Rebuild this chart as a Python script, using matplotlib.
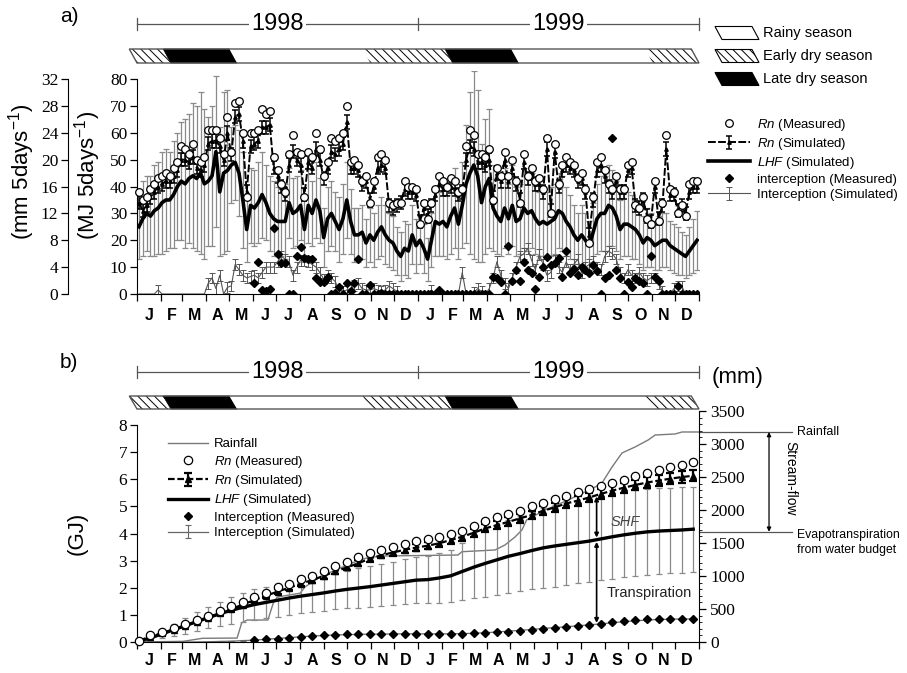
import numpy as np
import matplotlib
matplotlib.use('Agg')
import matplotlib.pyplot as plt
from matplotlib.patches import Polygon
from matplotlib.transforms import blended_transform_factory

plt.rcParams['font.family'] = ['Liberation Sans', 'DejaVu Sans']
plt.rcParams['mathtext.fontset'] = 'custom'
plt.rcParams['mathtext.rm'] = 'Liberation Sans'
plt.rcParams['mathtext.it'] = 'Liberation Sans:italic'
plt.rcParams['hatch.linewidth'] = 0.7

nan = np.nan

# ---------------- data ----------------
months = ['J', 'F', 'M', 'A', 'M', 'J', 'J', 'A', 'S', 'O', 'N', 'D'] * 2
month_days = [31, 28, 31, 30, 31, 30, 31, 31, 30, 31, 30, 31] * 2
years = ['1998', '1999']

season_edges = [0, 44, 130, 303, 410, 496, 670, 730]
season_kind = ['early', 'late', 'rainy', 'early', 'late', 'rainy', 'early']
season_labels = [('rainy', 'Rainy season'), ('early', 'Early dry season'), ('late', 'Late dry season')]

# 5-day values (MJ 5days-1), Jan 1998 - Dec 1999 (146 periods)
rn_meas = [38, 35, 36, 39, 41, 43, 44, 45, 44, 47, 49, 55, 54, 52, 56, 50, 49, 51, 61, 61,
           61, 58, 52, 66, 53, 71, 72, 60, 36, 60, 60, 61, 69, 67, 68, 51, 46,
           41, 38, 52, 59, 53, 52, 36, 53, 51, 60, 54, 44, 49, 58, 57, 58, 60, 70, 49, 50,
           48, 42, 44, 34, 42, 51, 52, 50, 34, 33, 34, 34, 42, 40, 40, 39,
           26, 34, 28, 34, 39, 44, 42, 40, 43, 42, 38, 39, 55, 61, 59, 52, 52, 51, 54, 35,
           47, 44, 53, 44, 50, 42, 34, 52, 44, 47, 42, 43, 39, 58, 30, 56,
           41, 48, 51, 49, 48, 43, 45, 39, 19, 36, 49, 51, 46, 41, 39, 44, 39, 39, 48, 49,
           33, 32, 36, 28, 26, 42, 27, 34, 59, 39, 38, 30, 33, 29, 41, 42, 42]
rn_sim = [34, 31, 33, 36, 38, 40, 41, 42, 42, 44, 46, 50, 50, 49, 51, 47, 46, 48, 56, 57,
          57, 55, 50, 60, 52, 66, 67, 57, 38, 55, 56, 57, 62, 62, 63, 47, 44,
          40, 37, 48, 53, 50, 48, 37, 49, 47, 54, 50, 43, 47, 53, 52, 54, 56, 64, 47, 47,
          46, 41, 42, 35, 40, 47, 48, 47, 33, 32, 33, 34, 39, 38, 38, 37,
          27, 32, 29, 33, 37, 41, 39, 39, 40, 39, 37, 38, 50, 55, 54, 49, 49, 48, 50, 36,
          45, 42, 50, 42, 47, 41, 35, 49, 43, 45, 41, 41, 38, 54, 31, 53,
          40, 46, 48, 47, 46, 42, 43, 38, 22, 35, 46, 48, 44, 40, 38, 42, 38, 38, 46, 47,
          33, 32, 35, 29, 27, 40, 28, 33, 54, 37, 37, 31, 33, 30, 38, 40, 40]
lhf_sim = [25, 28, 30, 29, 31, 32, 34, 35, 35, 37, 40, 42, 41, 43, 44, 43, 45, 41, 42, 44,
           53, 38, 45, 46, 48, 49, 45, 35, 24, 33, 32, 34, 37, 34, 30, 28, 27,
           27, 27, 34, 30, 31, 33, 24, 33, 30, 35, 31, 21, 28, 30, 27, 24, 28, 35, 27, 22,
           22, 23, 19, 22, 20, 23, 25, 22, 20, 19, 16, 14, 17, 16, 22, 18,
           20, 17, 13, 20, 27, 26, 27, 25, 29, 32, 26, 33, 41, 45, 48, 44, 34, 40, 43, 32,
           29, 27, 32, 28, 33, 27, 28, 32, 30, 31, 28, 26, 27, 26, 27, 28,
           31, 30, 27, 25, 22, 20, 22, 20, 18, 23, 28, 30, 30, 33, 32, 29, 24, 26, 26, 25,
           24, 22, 19, 21, 20, 18, 19, 20, 20, 18, 17, 16, 15, 14, 16, 18, 20]
lhf_err = [12, 14, 14, 15, 17, 17, 19, 19, 18, 20, 20, 22, 24, 24, 27, 27, 30, 28,
           24, 26, 28, 24, 30, 30, 14, 14, 16, 18, 12, 14, 14, 15, 16, 14, 14, 14,
           13, 13, 14, 13, 13, 13, 13, 12, 14, 12, 14, 12, 11, 12, 12, 11, 12, 13,
           14, 12, 10, 10, 10, 9, 10, 10, 10, 11, 11, 10, 10, 9, 9, 10, 10, 11, 10,
           9, 9, 8, 10, 13, 12, 13, 12, 14, 15, 13, 16, 22, 30, 35, 32, 22, 25,
           26, 16, 14, 13, 15, 13, 15, 13, 13, 15, 14, 14, 13, 12, 13, 12, 13, 13,
           14, 14, 13, 12, 11, 10, 11, 10, 9, 11, 13, 14, 14, 15, 14, 13, 11, 12,
           12, 12, 11, 11, 10, 11, 10, 9, 10, 10, 10, 9, 9, 9, 8, 8, 9, 10, 11]
int_meas = ([nan] * 30 +
            [4, 12, 1.5, 1, 2, 24.5, 15, 11.5, 11.5, 0, 0, 14, 17.6, 13.3, 13, 13, 6, 4.5,
             4.5, 6.3, 0, 0.5, 2.6, 0, 4, 1, 4, 13, 0, 0, 3.3, 0, 0, 0.5, 0] + [0] * 8 +
            [0, 0, 0, 0, 0, 1.5] + [0] * 13 +
            [6.5, 6, 4.6, 0, 18, 4.8, 9, 5, 12, 9, 7.8, 1.8, 6.3, 10, 13.8, 10.8, 11.5, 13.4,
             6.3, 16, 8, 9.3, 7, 10, 9, 8, 10.8, 8.7, 0, 5.9, 7, 58, 8.9, 6, 0, 4.4, 2.6, 6,
             5, 4, 0, 14, 6.3, 5] +
            [0, 0, 0, 0, 3, 0, 0, 0, 0, 0])
int_sim = ([0, 0, 0, 0, 0, 1.5] + [0] * 12 +
           [4, 6, 2, 7, 0, 2.5, 3, 11, 9, 7, 6, 6.5, 7, 6, 8, 10, 10, 10, 12, 14, 13, 12, 7,
            10, 12.6, 12.6, 12, 11, 10, 8, 5.6, 7, 6, 4.6, 1.5, 0.9, 1.5, 2, 3.3, 4, 2, 1.5,
            1.5, 2, 1.5, 1, 1.5, 3, 2, 1] + [0] * 5 +
           [0, 0, 0, 1.5, 0, 0, 0, 0, 0, 0, 0] +
           [8, 0, 0, 0.5, 2, 1, 0, 2, 6, 12, 7, 4, 2, 6, 10, 14, 15, 17, 12.6, 9, 14.7, 11, 7,
            8, 12.6, 10, 8, 12, 9, 11, 13, 8, 10, 11, 12, 10, 9, 14, 16, 15, 13, 8, 6, 9, 7,
            6, 8, 6, 5, 6, 6, 4, 1, 0, 0, 2, 3, 3, 0, 0, 0, 0])
RN_SIM_ERR = 2.5
INT_SIM_ERR = 2.0

# cumulative values (GJ), every third 5-day period
cum_rn_meas = [0.05, 0.24, 0.37, 0.5, 0.66, 0.8, 0.97, 1.15, 1.31, 1.48, 1.66, 1.82, 2.02,
               2.14, 2.31, 2.43, 2.62, 2.79, 2.95, 3.12, 3.27, 3.39, 3.51, 3.62, 3.71,
               3.78, 3.88, 4.0, 4.1, 4.28, 4.47, 4.6, 4.72, 4.84, 5.0, 5.11, 5.26, 5.38,
               5.54, 5.63, 5.75, 5.88, 5.97, 6.12, 6.24, 6.34, 6.44, 6.53, 6.65]
cum_rn_sim = [0.05, 0.2, 0.33, 0.46, 0.6, 0.74, 0.9, 1.06, 1.22, 1.38, 1.55, 1.7, 1.86,
              2.0, 2.15, 2.28, 2.44, 2.6, 2.75, 2.9, 3.08, 3.2, 3.3, 3.4, 3.48,
              3.55, 3.64, 3.76, 3.88, 4.03, 4.19, 4.31, 4.43, 4.56, 4.68, 4.84, 4.96, 5.11,
              5.21, 5.33, 5.46, 5.58, 5.69, 5.79, 5.88, 5.95, 6.02, 6.08, 6.13]
cum_rn_sim_err = [0.01, 0.02, 0.03, 0.03, 0.04, 0.05, 0.05, 0.06, 0.06, 0.07,
                  0.07, 0.08, 0.08, 0.09, 0.09, 0.1, 0.1, 0.11, 0.11, 0.11,
                  0.12, 0.12, 0.12, 0.13, 0.13, 0.13, 0.14, 0.14, 0.14, 0.15,
                  0.15, 0.15, 0.16, 0.16, 0.16, 0.17, 0.17, 0.17, 0.18, 0.18,
                  0.18, 0.19, 0.19, 0.19, 0.2, 0.2, 0.2, 0.21, 0.21]
cum_lhf = [0.03, 0.15, 0.3, 0.45, 0.6, 0.75, 0.9, 1.04, 1.17, 1.28, 1.38, 1.46, 1.54,
           1.62, 1.69, 1.75, 1.81, 1.88, 1.94, 1.99, 2.04, 2.1, 2.16, 2.22, 2.28,
           2.3, 2.36, 2.44, 2.6, 2.76, 2.9, 3.03, 3.16, 3.26, 3.37, 3.47, 3.54, 3.6,
           3.66, 3.72, 3.8, 3.88, 3.95, 4.01, 4.06, 4.09, 4.11, 4.13, 4.16]
cum_lhf_err = [0.01, 0.08, 0.15, 0.22, 0.3, 0.36, 0.4, 0.45, 0.5, 0.53,
               0.56, 0.58, 0.6, 0.61, 0.62, 0.64, 0.66, 0.68, 0.69, 0.72,
               0.75, 0.78, 0.8, 0.83, 0.85, 0.88, 0.92, 0.97, 1.06, 1.15,
               1.25, 1.3, 1.35, 1.39, 1.43, 1.47, 1.51, 1.51, 1.5, 1.5,
               1.53, 1.55, 1.57, 1.58, 1.59, 1.59, 1.58, 1.58, 1.57]
cum_int_meas = [nan, nan, nan, nan, nan, nan, nan, nan, nan, nan,
                0.06, 0.1, 0.12, 0.16, 0.18, 0.22, 0.25, 0.27, 0.28, 0.29,
                0.29, 0.3, 0.3, 0.3, 0.3, 0.3, 0.3, 0.3, 0.3, 0.32,
                0.33, 0.36, 0.38, 0.42, 0.45, 0.49, 0.53, 0.55, 0.59, 0.64,
                0.65, 0.73, 0.77, 0.81, 0.83, 0.85, 0.85, 0.85, 0.85]
cum_int_sim = [0, 0, 0, 0, 0, 0, 0.01, 0.02, 0.03, 0.05,
               0.07, 0.1, 0.13, 0.16, 0.19, 0.22, 0.24, 0.26, 0.27, 0.28,
               0.29, 0.29, 0.3, 0.3, 0.3, 0.3, 0.3, 0.3, 0.31, 0.32,
               0.34, 0.37, 0.4, 0.43, 0.46, 0.5, 0.53, 0.56, 0.6, 0.63,
               0.67, 0.71, 0.75, 0.78, 0.81, 0.83, 0.84, 0.85, 0.85]
cum_int_sim_err = [0, 0, 0, 0, 0, 0, 0.005, 0.01, 0.01, 0.015,
                   0.02, 0.02, 0.02, 0.025, 0.025, 0.025, 0.025, 0.025, 0.025, 0.025,
                   0.025, 0.025, 0.025, 0.025, 0.025, 0.025, 0.025, 0.025, 0.025, 0.025,
                   0.03, 0.03, 0.03, 0.035, 0.035, 0.04, 0.04, 0.04, 0.045, 0.045,
                   0.05, 0.05, 0.05, 0.05, 0.05, 0.05, 0.05, 0.05, 0.05]

# cumulative rainfall (mm) by day since 1 Jan 1998
rain_day = [0, 60, 85, 130, 136, 143, 170, 177, 182, 212, 218, 240, 260, 280, 300, 320,
            417, 422, 465, 478, 491, 500, 506, 530, 560, 595, 604, 617, 630, 647, 664,
            673, 699, 708, 730]
rain_mm = [0, 10, 56, 60, 290, 333, 333, 590, 680, 740, 833, 1000, 1100, 1200, 1280, 1303,
           1318, 1368, 1394, 1470, 1591, 1697, 1848, 2000, 2150, 2348, 2409, 2651, 2864,
           2955, 3061, 3136, 3152, 3182, 3182]
ET_BUDGET_MM = 1670
ARROW_DAY = 597

# ---------------- layout ----------------
W, H = 907, 673
fig = plt.figure(figsize=(W / 100, H / 100), dpi=100)


def frac(x0, y0, x1, y1):
    return [x0 / W, 1 - y1 / H, (x1 - x0) / W, (y1 - y0) / H]


ov = fig.add_axes([0, 0, 1, 1])
ov.set_xlim(0, W)
ov.set_ylim(H, 0)
ov.axis('off')
ov.set_zorder(0)

axA = fig.add_axes(frac(137, 71, 699, 294))
axB = fig.add_axes(frac(137, 411, 699, 642))
axA.set_zorder(2)
axA.patch.set_visible(False)

days = 5 * np.arange(len(rn_meas)) + 2.5
cum_days = days[::3]
bounds = np.concatenate([[0], np.cumsum(month_days)])
mids = (bounds[:-1] + bounds[1:]) / 2

SERIF = 'Liberation Serif'
GRAY = '#8a8a8a'


def style_xaxis(ax):
    ax.set_xlim(0, 730)
    ax.set_xticks(bounds)
    ax.set_xticklabels([])
    ax.set_xticks(mids, minor=True)
    ax.set_xticklabels(months, minor=True, fontweight='bold', fontsize=11.5)
    ax.tick_params(axis='x', which='major', length=5, width=0.9, direction='out')
    ax.tick_params(axis='x', which='minor', length=0, pad=10)
    ax.spines['top'].set_visible(False)
    ax.spines['right'].set_visible(False)


def season_bar(ax, y_top, y_bot):
    tr = blended_transform_factory(ax.transData, ov.transData)
    s = 10
    for d0, d1, kind in zip(season_edges[:-1], season_edges[1:], season_kind):
        verts = [(d0, y_bot), (d1, y_bot), (d1 - s, y_top), (d0 - s, y_top)]
        if kind == 'late':
            p = Polygon(verts, facecolor='black', edgecolor='black', lw=0.5, transform=tr, clip_on=False)
        elif kind == 'early':
            p = Polygon(verts, facecolor='white', edgecolor='black', lw=0, hatch='\\\\\\\\',
                        transform=tr, clip_on=False)
        else:
            p = Polygon(verts, facecolor='white', edgecolor='none', transform=tr, clip_on=False)
        ov.add_patch(p)
    d0, d1 = season_edges[0], season_edges[-1]
    ov.add_patch(Polygon([(d0, y_bot), (d1, y_bot), (d1 - s, y_top), (d0 - s, y_top)],
                         fill=False, edgecolor='#555555', lw=1.0, transform=tr, clip_on=False))


def year_line(ax, y):
    tr = blended_transform_factory(ax.transData, ov.transData)
    ov.plot([0, 730], [y, y], color='#555555', lw=0.9, transform=tr, clip_on=False)
    for d in (0, 365, 730):
        ov.plot([d, d], [y - 6, y + 6], color='#555555', lw=0.9, transform=tr, clip_on=False)
    for i, yr in enumerate(years):
        ov.text(182.5 + 365 * i, y, yr, transform=tr, ha='center', va='center', fontsize=17,
                bbox=dict(facecolor='white', edgecolor='none', pad=1.5))


# ---------------- panel a ----------------
axA.errorbar(days, lhf_sim, yerr=lhf_err, fmt='none', ecolor=GRAY, elinewidth=0.9,
             capsize=2.2, capthick=0.9, zorder=1)
int_sim_arr = np.array(int_sim, dtype=float)
int_err = np.where(int_sim_arr > 0, INT_SIM_ERR, 0)
h_int_sim = axA.errorbar(days, int_sim_arr, yerr=int_err, fmt='', color='#555555', lw=0.8,
                         ecolor='#555555', elinewidth=0.7, capsize=2, capthick=0.7, zorder=2)
h_lhf = axA.errorbar(days, lhf_sim, yerr=lhf_err, fmt='', color='black', lw=2.6,
                     ecolor=GRAY, elinewidth=0.9, capsize=2.2, capthick=0.9, zorder=3)
h_lhf[2][0].set_visible(False)
for c in h_lhf[1]:
    c.set_visible(False)
h_rn_sim = axA.errorbar(days, rn_sim, yerr=RN_SIM_ERR, fmt='', color='black', lw=1.4,
                        linestyle=(0, (4, 1.2)), marker='^', ms=2.5, ecolor='black',
                        elinewidth=1.1, capsize=2, capthick=1.1, zorder=4)
h_int_meas, = axA.plot(days, int_meas, 'D', color='black', ms=3.6, zorder=5)
h_rn_meas, = axA.plot(days, rn_meas, 'o', mfc='white', mec='black', mew=0.9, ms=5.5,
                      zorder=6, clip_on=False)

axA.set_ylim(0, 83)
axA.set_yticks(range(0, 81, 10))
axA.spines['left'].set_bounds(0, 80)
axA.tick_params(axis='y', length=5, width=0.9, labelsize=12.5, labelfontfamily=SERIF, pad=2)
style_xaxis(axA)

sec = axA.secondary_yaxis(-0.1228, functions=(lambda v: v * 0.4, lambda v: v / 0.4))
sec.set_yticks(range(0, 33, 4))
sec.spines['left'].set_bounds(0, 32)
sec.tick_params(axis='y', length=5, width=0.9, labelsize=12.5, labelfontfamily=SERIF, pad=2)

ov.text(88, 175, r'(MJ 5days$^{-1}$)', rotation=90, ha='center', va='center', fontsize=16)
ov.text(22, 172, r'(mm 5days$^{-1}$)', rotation=90, ha='center', va='center', fontsize=16)
ov.text(60, 16, 'a)', fontsize=15, ha='left', va='center')

season_bar(axA, 49, 63)
year_line(axA, 24)

# season legend
leg_rows = [33, 56, 79]
for (kind, label), yc in zip(season_labels, leg_rows):
    yt, yb = yc - 6.5, yc + 6.5
    verts = [(722, yb), (759, yb), (752, yt), (715, yt)]
    if kind == 'late':
        p = Polygon(verts, facecolor='black', edgecolor='black', lw=0.8)
    elif kind == 'early':
        p = Polygon(verts, facecolor='white', edgecolor='black', lw=0.8, hatch='\\\\\\\\')
    else:
        p = Polygon(verts, facecolor='white', edgecolor='black', lw=0.8)
    ov.add_patch(p)
    ov.text(763, yc, label, fontsize=10.5, ha='left', va='center')

fig.legend([h_rn_meas, h_rn_sim, h_lhf, h_int_meas, h_int_sim],
           [r'$\it{Rn}$ (Measured)', r'$\it{Rn}$ (Simulated)', r'$\it{LHF}$ (Simulated)',
            'interception (Measured)', 'Interception (Simulated)'],
           loc='upper left', bbox_to_anchor=(708 / W, 1 - 117 / H), frameon=False,
           fontsize=9.5, handlelength=3.2, handletextpad=0.5, labelspacing=0.22,
           borderpad=0, borderaxespad=0)

# ---------------- panel b ----------------
axR = axB.twinx()
axB.set_zorder(axR.get_zorder() + 1)
axB.patch.set_visible(False)

h_rain, = axR.plot(rain_day, rain_mm, color='#7a7a7a', lw=1.0)
axR.set_ylim(0, 3500)
axR.set_yticks(range(0, 3501, 500))
axR.set_yticks(range(0, 3501, 100), minor=True)
axR.tick_params(axis='y', which='major', length=5, width=0.9, labelsize=12.5,
                labelfontfamily=SERIF, pad=3)
axR.tick_params(axis='y', which='minor', length=2.5, width=0.6)
axR.spines['top'].set_visible(False)
axR.spines['left'].set_visible(False)
axR.spines['bottom'].set_visible(False)

axB.errorbar(cum_days, cum_lhf, yerr=cum_lhf_err, fmt='none', ecolor=GRAY, elinewidth=0.9,
             capsize=2.5, capthick=0.9, zorder=1)
hb_int_sim = axB.errorbar(cum_days, cum_int_sim, yerr=cum_int_sim_err, fmt='',
                          color='#666666', lw=0.9, ecolor='#666666', elinewidth=0.8,
                          capsize=2.5, capthick=0.8, zorder=2)
hb_lhf = axB.errorbar(cum_days, cum_lhf, yerr=cum_lhf_err, fmt='', color='black', lw=2.4,
                      ecolor=GRAY, elinewidth=0.9, capsize=2.5, capthick=0.9, zorder=3)
hb_lhf[2][0].set_visible(False)
for c in hb_lhf[1]:
    c.set_visible(False)
hb_rn_sim = axB.errorbar(cum_days, cum_rn_sim, yerr=cum_rn_sim_err, fmt='', color='black',
                         lw=1.6, linestyle=(0, (3, 1.2)), marker='^', ms=4, ecolor='black',
                         elinewidth=1.6, capsize=3, capthick=1.6, zorder=4)
hb_int_meas, = axB.plot(cum_days, cum_int_meas, 'D', color='black', ms=4, zorder=5)
hb_rn_meas, = axB.plot(cum_days, cum_rn_meas, 'o', mfc='white', mec='black', mew=0.9,
                       ms=6, zorder=6, clip_on=False)

axB.set_ylim(0, 8 * 231 / 217)
axB.set_yticks(range(0, 9))
axB.spines['left'].set_bounds(0, 8)
axB.tick_params(axis='y', length=5, width=0.9, labelsize=12.5, labelfontfamily=SERIF, pad=2)
style_xaxis(axB)
axB.tick_params(axis='x', which='minor', pad=8)
axB.set_ylabel('(GJ)', fontsize=16)
axB.yaxis.set_label_coords(-0.087, 0.472)

# arrows SHF / Transpiration
y_rn = np.interp(ARROW_DAY, cum_days, cum_rn_sim)
y_lhf = np.interp(ARROW_DAY, cum_days, cum_lhf)
y_int = np.interp(ARROW_DAY, cum_days, cum_int_sim)
arr = dict(arrowstyle='<|-|>', lw=1.2, color='black', mutation_scale=6, shrinkA=0, shrinkB=0)
axB.annotate('', xy=(ARROW_DAY, y_rn - 0.05), xytext=(ARROW_DAY, y_lhf + 0.08),
             arrowprops=arr, zorder=7)
axB.annotate('', xy=(ARROW_DAY, y_lhf - 0.08), xytext=(ARROW_DAY, y_int + 0.05),
             arrowprops=arr, zorder=7)
axB.text(634, 4.42, 'SHF', fontsize=10.5, style='italic', color='#444444', ha='center',
         va='center', zorder=8)
axB.text(666, 1.8, 'Transpiration', fontsize=10.5, color='#222222', ha='center',
         va='center', zorder=8, bbox=dict(facecolor='white', edgecolor='none', pad=0.5))

# right-side water budget annotation
trR = blended_transform_factory(axR.transAxes, axR.transData)
rain_total = rain_mm[-1]
axR.plot([1.0, 1.165], [rain_total, rain_total], color='#555555', lw=0.9,
         transform=trR, clip_on=False)
axR.plot([1.0, 1.165], [ET_BUDGET_MM, ET_BUDGET_MM], color='#555555', lw=0.9,
         transform=trR, clip_on=False)
axR.annotate('', xy=(1.1246, rain_total), xytext=(1.1246, ET_BUDGET_MM), xycoords=trR,
             textcoords=trR, arrowprops=dict(arrowstyle='<|-|>', lw=0.9, color='black',
                                             mutation_scale=6, shrinkA=0, shrinkB=0))
axR.text(1.175, rain_total, 'Rainfall', transform=trR, fontsize=9, ha='left', va='center')
axR.text(1.175, ET_BUDGET_MM + 40, 'Evapotranspiration\nfrom water budget', transform=trR,
         fontsize=8.8, ha='left', va='top', linespacing=1.3)
axR.text(1.163, (rain_total + ET_BUDGET_MM) / 2 + 60, 'Stream-flow', transform=trR,
         fontsize=10, rotation=270, ha='center', va='center')

ov.text(738, 378, '(mm)', fontsize=16, ha='center', va='center')
ov.text(60, 362, 'b)', fontsize=15, ha='left', va='center')

season_bar(axB, 396, 409)
year_line(axB, 372)

axB.legend([h_rain, hb_rn_meas, hb_rn_sim, hb_lhf, hb_int_meas, hb_int_sim],
           ['Rainfall', r'$\it{Rn}$ (Measured)', r'$\it{Rn}$ (Simulated)',
            r'$\it{LHF}$ (Simulated)', 'Interception (Measured)', 'Interception (Simulated)'],
           loc='upper left', bbox_to_anchor=(168 / W, 1 - 438 / H),
           bbox_transform=fig.transFigure, frameon=False, fontsize=9.5, handlelength=3.0,
           handletextpad=0.5, labelspacing=0.25, borderpad=0, borderaxespad=0)

fig.savefig('out.png', dpi=100)
